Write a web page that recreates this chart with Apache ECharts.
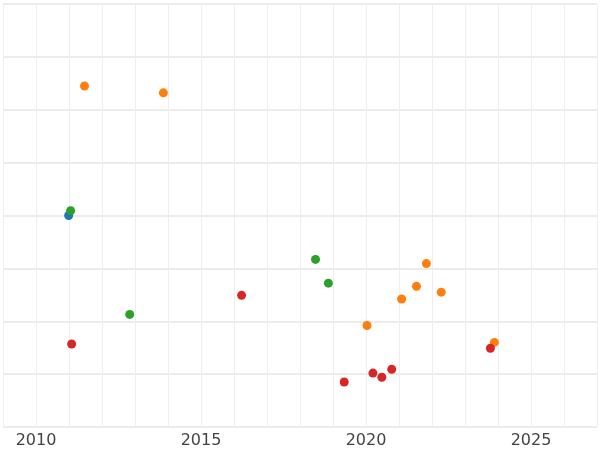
<!DOCTYPE html>
<html><head><meta charset="utf-8">
<script src="https://cdn.jsdelivr.net/npm/echarts@6/dist/echarts.min.js"></script>
<style>html,body{margin:0;padding:0}#c{width:600px;height:450px}</style>
</head><body><div id="c"></div>
<script>
const blueData=[[2010.99,4.0]];
const orangeData=[[2011.47,6.45],[2013.86,6.32],[2021.83,3.09],[2021.53,2.66],[2022.28,2.55],[2021.08,2.42],[2020.03,1.92],[2023.89,1.60]];
const greenData=[[2011.05,4.09],[2018.47,3.17],[2018.86,2.72],[2012.84,2.13]];
const redData=[[2016.23,2.49],[2011.08,1.57],[2023.77,1.49],[2020.78,1.09],[2020.21,1.02],[2020.48,0.94],[2019.34,0.85]];
const xTicks=[2010,2015,2020,2025];
const chart=echarts.init(document.getElementById('c'));
const mk=(d,c)=>({type:'scatter',data:d,symbolSize:9,itemStyle:{color:c,opacity:1},animation:false});
chart.setOption({
 grid:{left:0,right:0,top:4,bottom:23,containLabel:false},
 xAxis:{type:'value',min:2009,max:2027,interval:1,
  axisLine:{show:false},axisTick:{show:false},
  axisLabel:{color:'#444',fontSize:16,fontFamily:'DejaVu Sans',margin:6,
    formatter:v=>xTicks.includes(v)?String(v):''},
  splitLine:{lineStyle:{color:'#eee',width:1},show:true,
    interval:(i,v)=>xTicks.includes(v)}},
 yAxis:{type:'value',min:0,max:8,interval:1,axisLabel:{show:false},
  axisLine:{show:false},axisTick:{show:false},
  splitLine:{lineStyle:{color:'#e6e6e6',width:1.5}}},
 series:[mk(blueData,'#1f77b4'),mk(orangeData,'#ff7f0e'),mk(greenData,'#2ca02c'),mk(redData,'#d62728')]
});
</script></body></html>
